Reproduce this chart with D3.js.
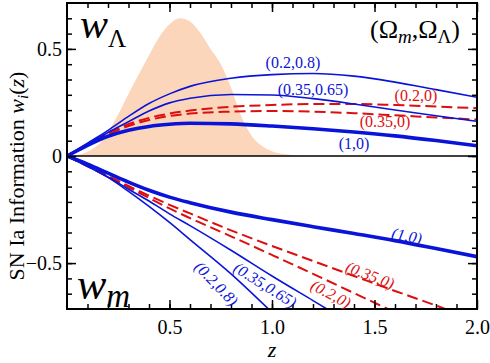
<!DOCTYPE html>
<html>
<head>
<meta charset="utf-8">
<script src="https://cdn.jsdelivr.net/npm/d3@7"></script>
<style>
  body { margin: 0; background: #fff; }
  svg text { font-family: "Liberation Serif", "Times New Roman", serif; }
</style>
</head>
<body>
<div id="chart"></div>
<script>
// redshift grid shared by the w_i(z) curves
var zs = [0, 0.1, 0.2, 0.3, 0.4, 0.5, 0.6, 0.8, 1.0, 1.2, 1.4, 1.6, 1.8, 2.0];

// w_Lambda curves (upper half)
var wL_02_08  = [0, 0.06, 0.12, 0.185, 0.245, 0.29, 0.325, 0.363, 0.38, 0.385, 0.373, 0.345, 0.31, 0.274];
var wL_035_065 = [0, 0.055, 0.11, 0.16, 0.21, 0.248, 0.27, 0.287, 0.285, 0.268, 0.243, 0.215, 0.188, 0.162];
var wL_02_0   = [0, 0.055, 0.105, 0.148, 0.178, 0.198, 0.212, 0.23, 0.238, 0.243, 0.243, 0.238, 0.231, 0.223];
var wL_035_0  = [0, 0.053, 0.1, 0.14, 0.168, 0.187, 0.198, 0.207, 0.21, 0.207, 0.2, 0.19, 0.18, 0.17];
var wL_1_0    = [0, 0.05, 0.092, 0.12, 0.138, 0.148, 0.153, 0.15, 0.14, 0.127, 0.112, 0.094, 0.072, 0.048];

// w_m curves (lower half), the steep ones stop once they leave the frame
var wm_1_0     = [0, -0.038, -0.08, -0.122, -0.16, -0.192, -0.218, -0.262, -0.297, -0.33, -0.362, -0.395, -0.432, -0.47];
var wm_035_0   = [0, -0.046, -0.092, -0.14, -0.185, -0.228, -0.268, -0.347, -0.42, -0.49, -0.56, -0.63, -0.698, -0.77];
var wm_02_0    = [0, -0.048, -0.096, -0.146, -0.196, -0.245, -0.29, -0.375, -0.462, -0.55, -0.64, -0.73];
var wm_035_065 = [0, -0.048, -0.098, -0.155, -0.21, -0.27, -0.325, -0.44, -0.56, -0.675, -0.79];
var wm_02_08   = [0, -0.048, -0.1, -0.165, -0.235, -0.31, -0.39, -0.55, -0.73];

// SN redshift distribution (shaded)
var zShade = [0.03, 0.1, 0.15, 0.2, 0.25, 0.3, 0.35, 0.4, 0.45, 0.5, 0.55, 0.6, 0.65, 0.7, 0.75, 0.8, 0.85, 0.9, 0.95, 1.0, 1.05, 1.1, 1.15];
var nShade = [0, 0.02, 0.05, 0.11, 0.195, 0.29, 0.38, 0.47, 0.555, 0.615, 0.643, 0.628, 0.575, 0.5, 0.43, 0.32, 0.185, 0.095, 0.048, 0.022, 0.01, 0.004, 0];

var xTickLabels = [0.5, 1.0, 1.5, 2.0];
var yTickLabels = [-0.5, 0, 0.5];

var curveLabels = ["(0.2,0.8)", "(0.35,0.65)", "(0.2,0)", "(0.35,0)", "(1,0)"];

const width = 490, height = 363;
const margin = {top: 3, right: 13, bottom: 54, left: 67};
const blue = "#0a14d8", red = "#dc0f0f";

var x = d3.scaleLinear().domain([0, 2]).range([margin.left, width - margin.right]);
var y = d3.scaleLinear().domain([-5/7, 5/7]).range([height - margin.bottom, margin.top]);

var svg = d3.select("#chart").append("svg")
    .attr("width", width)
    .attr("height", height)
    .attr("font-family", "Liberation Serif, serif");

svg.append("defs").append("clipPath")
    .attr("id", "frame")
  .append("rect")
    .attr("x", x(0)).attr("y", y(5/7))
    .attr("width", x(2) - x(0)).attr("height", y(-5/7) - y(5/7));

var plot = svg.append("g").attr("clip-path", "url(#frame)");

// shaded distribution
var area = d3.area()
    .x(function(d, i) { return x(zShade[i]); })
    .y0(y(0))
    .y1(function(d) { return y(d); })
    .curve(d3.curveMonotoneX);

plot.append("path")
    .attr("d", area(nShade))
    .attr("fill", "#fcd6bb");

// zero line
plot.append("line")
    .attr("x1", x(0)).attr("x2", x(2))
    .attr("y1", y(0)).attr("y2", y(0))
    .attr("stroke", "#000")
    .attr("stroke-width", 1.6);

var line = d3.line()
    .x(function(d, i) { return x(zs[i]); })
    .y(function(d) { return y(d); })
    .curve(d3.curveMonotoneX);

var series = [
  {v: wL_02_0, color: red, w: 2, dash: "11,5"},
  {v: wL_035_0, color: red, w: 2, dash: "11,5"},
  {v: wm_02_0, color: red, w: 2, dash: "11,5"},
  {v: wm_035_0, color: red, w: 2, dash: "11,5"},
  {v: wL_02_08, color: blue, w: 1.6},
  {v: wL_035_065, color: blue, w: 1.6},
  {v: wm_02_08, color: blue, w: 1.6},
  {v: wm_035_065, color: blue, w: 1.6},
  {v: wL_1_0, color: blue, w: 3.6},
  {v: wm_1_0, color: blue, w: 3.6}
];

plot.selectAll("path.curve")
    .data(series)
    .enter()
    .append("path")
    .attr("class", "curve")
    .attr("d", function(d) { return line(d.v); })
    .attr("fill", "none")
    .attr("stroke", function(d) { return d.color; })
    .attr("stroke-width", function(d) { return d.w; })
    .attr("stroke-dasharray", function(d) { return d.dash || null; });

// axes: ticks pointing inward on all four sides
var minorX = d3.range(1, 20).map(function(i) { return i / 10; });
var minorY = d3.range(-9, 10).map(function(i) { return i * 0.5 / 7; })
    .filter(function(v) { return Math.abs(v) < 0.71; });

function tickGroup(axis, tx, ty) {
  var g = svg.append("g")
      .attr("transform", "translate(" + tx + "," + ty + ")")
      .call(axis);
  g.attr("font-family", null);
  g.select(".domain").remove();
  g.selectAll("line").attr("stroke-width", 1.5);
  return g;
}

tickGroup(d3.axisBottom(x).tickValues(minorX).tickSize(-5).tickFormat(""), 0, y(-5/7));
tickGroup(d3.axisTop(x).tickValues(minorX).tickSize(-5).tickFormat(""), 0, y(5/7));
tickGroup(d3.axisLeft(y).tickValues(minorY).tickSize(-5).tickFormat(""), x(0), 0);
tickGroup(d3.axisRight(y).tickValues(minorY).tickSize(-5).tickFormat(""), x(2), 0);

var bx = tickGroup(d3.axisBottom(x).tickValues(xTickLabels).tickSize(-9).tickPadding(11)
    .tickFormat(d3.format(".1f")), 0, y(-5/7));
bx.selectAll("text").attr("font-size", 20).attr("fill", "#000");
tickGroup(d3.axisTop(x).tickValues(xTickLabels).tickSize(-9).tickFormat(""), 0, y(5/7));

var ly = tickGroup(d3.axisLeft(y).tickValues(yTickLabels).tickSize(-9).tickPadding(5)
    .tickFormat(function(d) { return d === 0 ? "0" : d3.format(".1f")(d); }), x(0), 0);
ly.selectAll("text").attr("font-size", 20).attr("fill", "#000");
tickGroup(d3.axisRight(y).tickValues(yTickLabels).tickSize(-9).tickFormat(""), x(2), 0);

// frame
svg.append("rect")
    .attr("x", x(0)).attr("y", y(5/7))
    .attr("width", x(2) - x(0)).attr("height", y(-5/7) - y(5/7))
    .attr("fill", "none")
    .attr("stroke", "#000")
    .attr("stroke-width", 2);

// axis titles
svg.append("text")
    .attr("x", (x(0) + x(2)) / 2)
    .attr("y", 357)
    .attr("text-anchor", "middle")
    .attr("font-size", 22)
    .attr("font-style", "italic")
    .text("z");

var yt = svg.append("text")
    .attr("transform", "translate(24," + 176 + ") rotate(-90)")
    .attr("text-anchor", "middle")
    .attr("font-size", 22);
yt.append("tspan").text("SN Ia Information ");
yt.append("tspan").attr("font-style", "italic").text("w");
yt.append("tspan").attr("font-style", "italic").attr("font-size", 15).attr("dy", 4).text("i");
yt.append("tspan").attr("dy", -4).text("(");
yt.append("tspan").attr("font-style", "italic").text("z");
yt.append("tspan").text(")");

// panel labels
var wl = svg.append("text").attr("x", 80).attr("y", 38);
wl.append("tspan").attr("font-size", 42).attr("font-style", "italic").text("w");
wl.append("tspan").attr("font-size", 25).attr("dy", 9).text("Λ");

var wm = svg.append("text").attr("x", 77).attr("y", 299);
wm.append("tspan").attr("font-size", 44).attr("font-style", "italic").text("w");
wm.append("tspan").attr("font-size", 33).attr("font-style", "italic").attr("dy", 8).text("m");

var om = svg.append("text").attr("x", 370).attr("y", 38).attr("font-size", 26);
om.append("tspan").text("(Ω");
om.append("tspan").attr("font-size", 19).attr("font-style", "italic").attr("dy", 5).text("m");
om.append("tspan").attr("dy", -5).text(",Ω");
om.append("tspan").attr("font-size", 19).attr("dy", 5).text("Λ");
om.append("tspan").attr("dy", -5).text(")");

// curve labels, upper half (upright)
var upper = [
  {t: curveLabels[0], z: 1.102, w: 0.41, c: blue},
  {t: curveLabels[1], z: 1.2, w: 0.284, c: blue},
  {t: curveLabels[2], z: 1.702, w: 0.259, c: red},
  {t: curveLabels[3], z: 1.551, w: 0.136, c: red},
  {t: curveLabels[4], z: 1.4, w: 0.033, c: blue}
];
svg.selectAll("text.up")
    .data(upper)
    .enter()
    .append("text")
    .attr("class", "up")
    .attr("x", function(d) { return x(d.z); })
    .attr("y", function(d) { return y(d.w); })
    .attr("text-anchor", "middle")
    .attr("font-size", 16)
    .attr("fill", function(d) { return d.c; })
    .text(function(d) { return d.t; });

// curve labels, lower half (italic, along the curves)
var lower = [
  {t: curveLabels[4], z: 1.657, w: -0.374, a: 11, c: blue},
  {t: curveLabels[3], z: 1.478, w: -0.558, a: 21, c: red},
  {t: curveLabels[2], z: 1.287, w: -0.645, a: 28, c: red},
  {t: curveLabels[1], z: 0.966, w: -0.603, a: 32, c: blue},
  {t: curveLabels[0], z: 0.728, w: -0.597, a: 46, c: blue}
];
svg.selectAll("text.low")
    .data(lower)
    .enter()
    .append("text")
    .attr("class", "low")
    .attr("transform", function(d) {
      return "translate(" + x(d.z) + "," + y(d.w) + ") rotate(" + d.a + ")";
    })
    .attr("text-anchor", "middle")
    .attr("dy", "0.32em")
    .attr("font-size", 16)
    .attr("font-style", "italic")
    .attr("fill", function(d) { return d.c; })
    .text(function(d) { return d.t; });
</script>
</body>
</html>
